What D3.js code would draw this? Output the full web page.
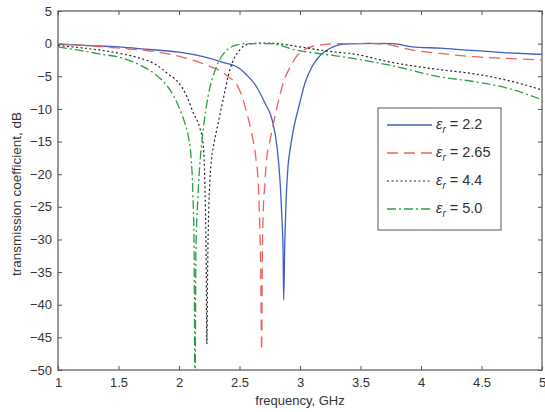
<!DOCTYPE html>
<html lang="en">
<head>
<meta charset="UTF-8">
<title>transmission coefficient</title>
<script src="https://cdn.jsdelivr.net/npm/d3@7"></script>
<style>
  body { margin: 0; background: #fff; }
  svg text { font-family: "Liberation Sans", Arial, sans-serif; fill: #333; }
</style>
</head>
<body>
<svg width="545" height="412"></svg>
<script>
// frequency (GHz) and transmission coefficient (dB)
var freq22 = [1.0, 1.25, 1.5, 1.75, 2.0, 2.2, 2.35, 2.5, 2.56, 2.63, 2.71, 2.77, 2.81, 2.835, 2.85, 2.86, 2.865, 2.875, 2.885, 2.9, 2.92, 2.945, 2.99, 3.04, 3.1, 3.17, 3.25, 3.36, 3.58, 3.77, 3.93, 4.16, 4.38, 4.71, 5.0];
var tc22   = [-0.1, -0.3, -0.5, -0.9, -1.3, -2.0, -2.8, -3.8, -4.8, -6.3, -9.1, -11.7, -15.8, -21, -26.5, -31.6, -39.3, -30, -24, -19, -16, -13.2, -9.7, -6.1, -3.5, -1.75, -0.7, -0.06, 0.05, 0.0, -0.5, -0.7, -1.0, -1.4, -1.65];

var freq265 = [1.0, 1.25, 1.51, 1.79, 2.06, 2.23, 2.39, 2.5, 2.56, 2.6, 2.635, 2.655, 2.665, 2.675, 2.683, 2.688, 2.695, 2.71, 2.725, 2.745, 2.77, 2.81, 2.86, 2.92, 2.97, 3.06, 3.17, 3.3, 3.6, 3.74, 3.93, 4.16, 4.43, 4.71, 5.0];
var tc265   = [0, -0.3, -0.7, -1.2, -2.25, -3.3, -4.8, -7.1, -10.6, -13.7, -17.5, -21.4, -26.5, -34, -47, -34, -26.5, -21.4, -17.5, -15.5, -13.2, -9.7, -6.1, -3.5, -2.0, -0.7, -0.2, 0, 0, -0.2, -1.0, -1.5, -2.0, -2.25, -2.5];

var freq44 = [1.0, 1.17, 1.35, 1.51, 1.68, 1.79, 1.9, 2.01, 2.07, 2.12, 2.17, 2.2, 2.21, 2.218, 2.225, 2.23, 2.237, 2.245, 2.255, 2.27, 2.29, 2.32, 2.37, 2.42, 2.5, 2.57, 2.7, 2.81, 3.0, 3.25, 3.45, 3.74, 4.16, 4.43, 4.71, 5.0];
var tc44   = [-0.3, -0.6, -1.0, -1.5, -2.25, -3.0, -4.5, -6.3, -8.3, -10.7, -12.8, -15.5, -19, -25, -34, -46, -34, -26, -21, -17.5, -15.2, -12.5, -8.1, -4.0, -1.0, -0.1, 0.1, 0, -0.5, -1.2, -1.6, -2.8, -4.0, -4.6, -5.6, -7.1];

var freq50 = [1.0, 1.17, 1.35, 1.51, 1.68, 1.79, 1.87, 1.93, 2.01, 2.05, 2.08, 2.1, 2.115, 2.125, 2.132, 2.14, 2.155, 2.17, 2.185, 2.2, 2.24, 2.3, 2.37, 2.48, 2.56, 2.75, 2.97, 3.25, 3.45, 3.74, 4.16, 4.43, 4.71, 5.0];
var tc50   = [-0.5, -1.0, -1.6, -2.1, -3.3, -4.5, -5.8, -7.2, -10.2, -12.3, -14.5, -17.5, -23, -31.6, -56, -31.6, -24, -19, -15.8, -13.2, -8.1, -4.0, -1.5, -0.2, 0, 0, -1.0, -1.75, -2.3, -3.3, -5.1, -5.8, -6.8, -8.6];

var seriesNames = ["2.2", "2.65", "4.4", "5.0"];
var xTicks = [1, 1.5, 2, 2.5, 3, 3.5, 4, 4.5, 5];
var yTicks = [5, 0, -5, -10, -15, -20, -25, -30, -35, -40, -45, -50];

var series = [
  { name: seriesNames[0], f: freq22, v: tc22, color: "#3f5fbf", dash: null, width: 1.3 },
  { name: seriesNames[1], f: freq265, v: tc265, color: "#e8635f", dash: "11,6", width: 1.3 },
  { name: seriesNames[2], f: freq44, v: tc44, color: "#222", dash: "2,2.5", width: 1.2 },
  { name: seriesNames[3], f: freq50, v: tc50, color: "#2a9e48", dash: "9,3,2,3", width: 1.3 }
];

var svg = d3.select("svg");
var plotL = 58, plotR = 542, plotT = 11, plotB = 370;

var x = d3.scaleLinear().domain([1, 5]).range([plotL, plotR]);
var y = d3.scaleLinear().domain([-50, 5]).range([plotB, plotT]);

svg.append("clipPath").attr("id", "plot")
  .append("rect")
  .attr("x", plotL).attr("y", plotT)
  .attr("width", plotR - plotL).attr("height", plotB - plotT);

// axes, ticks pointing in, on all four sides
var axisColor = "#555";
function styleAxis(g) {
  g.select(".domain").remove();
  g.selectAll(".tick line").attr("stroke", axisColor);
  g.selectAll(".tick text").attr("font-size", 13).attr("fill", "#333");
}
svg.append("g").attr("transform", "translate(0," + plotB + ")")
  .call(d3.axisBottom(x).tickValues(xTicks).tickSizeInner(-4).tickSizeOuter(0).tickPadding(8).tickFormat(d3.format("")))
  .call(styleAxis);
svg.append("g").attr("transform", "translate(0," + plotT + ")")
  .call(d3.axisTop(x).tickValues(xTicks).tickSizeInner(-4).tickSizeOuter(0).tickFormat(""))
  .call(styleAxis);
svg.append("g").attr("transform", "translate(" + plotL + ",0)")
  .call(d3.axisLeft(y).tickValues(yTicks).tickSizeInner(-4).tickSizeOuter(0).tickPadding(6))
  .call(styleAxis);
svg.append("g").attr("transform", "translate(" + plotR + ",0)")
  .call(d3.axisRight(y).tickValues(yTicks).tickSizeInner(-4).tickSizeOuter(0).tickFormat(""))
  .call(styleAxis);

svg.append("rect")
  .attr("x", plotL).attr("y", plotT)
  .attr("width", plotR - plotL).attr("height", plotB - plotT)
  .attr("fill", "none").attr("stroke", axisColor).attr("stroke-width", 1.2);

// curves
var line = d3.line()
  .x(function(d) { return x(d[0]); })
  .y(function(d) { return y(d[1]); })
  .curve(d3.curveMonotoneX);

svg.append("g").attr("clip-path", "url(#plot)")
  .selectAll("path")
  .data(series)
  .join("path")
  .attr("d", function(s) { return line(d3.zip(s.f, s.v)); })
  .attr("fill", "none")
  .attr("stroke", function(s) { return s.color; })
  .attr("stroke-width", function(s) { return s.width; })
  .attr("stroke-dasharray", function(s) { return s.dash; });

// axis titles
svg.append("text")
  .attr("x", 300).attr("y", 405)
  .attr("text-anchor", "middle").attr("font-size", 13)
  .text("frequency, GHz");
svg.append("text")
  .attr("transform", "translate(21,194) rotate(-90)")
  .attr("text-anchor", "middle").attr("font-size", 13.5)
  .text("transmission coefficient, dB");

// legend
var lg = svg.append("g");
lg.append("rect")
  .attr("x", 378).attr("y", 108).attr("width", 123).attr("height", 122)
  .attr("fill", "#fff").attr("stroke", axisColor).attr("stroke-width", 1);

var rows = lg.selectAll("g.row")
  .data(series)
  .join("g").attr("class", "row")
  .attr("transform", function(s, i) { return "translate(0," + [125, 153, 181, 209][i] + ")"; });

rows.append("line")
  .attr("x1", 387).attr("x2", 432)
  .attr("stroke", function(s) { return s.color; })
  .attr("stroke-width", function(s) { return s.width; })
  .attr("stroke-dasharray", function(s) { return s.dash; });

var t = rows.append("text").attr("x", 436).attr("y", 4).attr("font-size", 14.5);
t.append("tspan").attr("font-style", "italic").text("\u03b5");
t.append("tspan").attr("font-style", "italic").attr("font-size", 10).attr("dy", 4).text("r");
t.append("tspan").attr("dy", -4).text(function(s) { return " = " + s.name; });
</script>
</body>
</html>
